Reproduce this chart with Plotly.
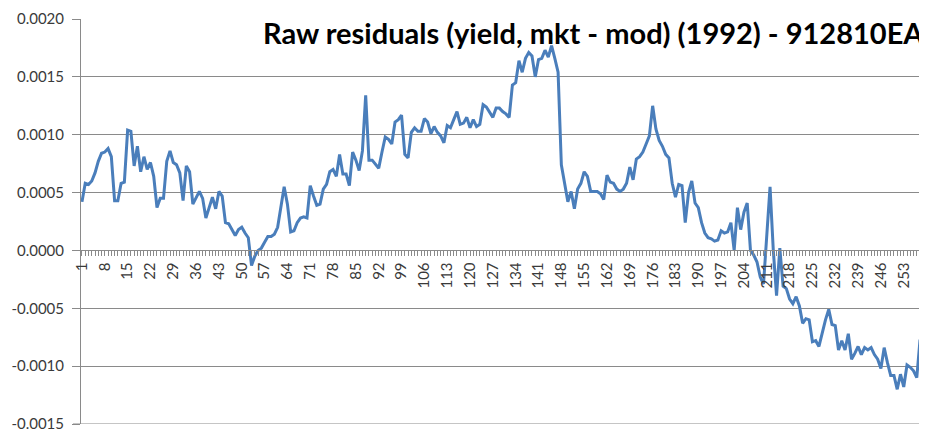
import plotly.graph_objects as go

# Observation index (categories 1..258)
categories = list(range(1, 259))

# Raw residuals (yield, mkt - mod)
residuals = [
    0.00042, 0.00058, 0.00057, 0.00060, 0.00067, 0.00077, 0.00084, 0.00085, 0.00088, 0.00081,
    0.00043, 0.00043, 0.00058, 0.00059, 0.00104, 0.00103, 0.00073, 0.00090, 0.00068, 0.00081,
    0.00070, 0.00076, 0.00064, 0.00037, 0.00045, 0.00045, 0.00077, 0.00086, 0.00076, 0.00074,
    0.00067, 0.00043, 0.00073, 0.00068, 0.00040, 0.00045, 0.00051, 0.00045, 0.00028, 0.00037,
    0.00046, 0.00036, 0.00051, 0.00047, 0.00024, 0.00023, 0.00018, 0.00013, 0.00018, 0.00020,
    0.00015, 0.00011, -0.00013, -0.00005, 0.00000, 0.00002, 0.00007, 0.00012, 0.00012, 0.00014,
    0.00020, 0.00036, 0.00055, 0.00040, 0.00016, 0.00017, 0.00024, 0.00028, 0.00029, 0.00028,
    0.00056, 0.00047, 0.00039, 0.00040, 0.00053, 0.00057, 0.00068, 0.00070, 0.00064, 0.00083,
    0.00066, 0.00066, 0.00056, 0.00085, 0.00078, 0.00069, 0.00086, 0.00134, 0.00078, 0.00078,
    0.00074, 0.00071, 0.00085, 0.00098, 0.00096, 0.00092, 0.00111, 0.00113, 0.00117, 0.00083,
    0.00080, 0.00102, 0.00106, 0.00103, 0.00103, 0.00114, 0.00111, 0.00101, 0.00107, 0.00102,
    0.00099, 0.00093, 0.00108, 0.00106, 0.00113, 0.00120, 0.00109, 0.00110, 0.00115, 0.00106,
    0.00113, 0.00107, 0.00109, 0.00126, 0.00124, 0.00120, 0.00115, 0.00123, 0.00123, 0.00120,
    0.00118, 0.00115, 0.00143, 0.00145, 0.00164, 0.00154, 0.00166, 0.00171, 0.00168, 0.00150,
    0.00165, 0.00166, 0.00173, 0.00167, 0.00177, 0.00166, 0.00154, 0.00074, 0.00059, 0.00042,
    0.00051, 0.00036, 0.00053, 0.00058, 0.00068, 0.00064, 0.00051, 0.00051, 0.00051, 0.00049,
    0.00044, 0.00065, 0.00059, 0.00058, 0.00053, 0.00051, 0.00053, 0.00058, 0.00072, 0.00061,
    0.00079, 0.00081, 0.00085, 0.00092, 0.00099, 0.00125, 0.00105, 0.00095, 0.00090, 0.00083,
    0.00080, 0.00058, 0.00046, 0.00057, 0.00056, 0.00024, 0.00050, 0.00060, 0.00041, 0.00037,
    0.00024, 0.00015, 0.00011, 0.00010, 0.00008, 0.00009, 0.00017, 0.00015, 0.00016, 0.00024,
    0.00000, 0.00037, 0.00018, 0.00033, 0.00041, 0.00000, -0.00004, -0.00010, -0.00023, -0.00029,
    0.00010, 0.00055, 0.00000, -0.00039, 0.00002, -0.00031, -0.00033, -0.00042, -0.00046, -0.00040,
    -0.00048, -0.00063, -0.00059, -0.00060, -0.00079, -0.00078, -0.00083, -0.00071, -0.00060, -0.00051,
    -0.00064, -0.00065, -0.00086, -0.00078, -0.00086, -0.00072, -0.00094, -0.00089, -0.00083, -0.00090,
    -0.00084, -0.00086, -0.00084, -0.00090, -0.00094, -0.00102, -0.00084, -0.00097, -0.00108, -0.00108,
    -0.00120, -0.00107, -0.00118, -0.00099, -0.00101, -0.00104, -0.00110, -0.00077,
]

# Category axis labels (every 7th category)
x_tick_values = list(range(1, 259, 7))
x_tick_labels = [str(v) for v in x_tick_values]

y_tick_values = [-0.0015, -0.0010, -0.0005, 0.0, 0.0005, 0.0010, 0.0015, 0.0020]
y_tick_labels = ["-0.0015", "-0.0010", "-0.0005", "0.0000", "0.0005", "0.0010", "0.0015", "0.0020"]

title_text = "Raw residuals (yield, mkt - mod) (1992) - 912810EA"

Y_MIN, Y_MAX = -0.0015, 0.0020
AXIS_GRAY = "#8a8a8a"
TEXT_COLOR = "#3a3a3a"
FONT = "Lato"

fig = go.Figure()
fig.add_trace(go.Scatter(
    x=categories, y=residuals, mode="lines",
    line=dict(color="#4a7ebb", width=3),
    showlegend=False, hoverinfo="skip",
))

zero_pos = (0 - Y_MIN) / (Y_MAX - Y_MIN)
PLOT_W = 919 - 73 - 5

# the page body has an 8px margin, so the figure is sized to fill the rest
fig.update_layout(
    width=919, height=422,
    margin=dict(l=73, r=5, t=11, b=6, autoexpand=False),
    paper_bgcolor="white", plot_bgcolor="white",
    font=dict(family=FONT, color=TEXT_COLOR, size=15),
    xaxis=dict(
        range=[0.7, 258.6], anchor="free", position=zero_pos, automargin=False,
        tickmode="array", tickvals=x_tick_values, ticktext=x_tick_labels,
        tickangle=-90, ticks="outside", ticklen=5, tickcolor=AXIS_GRAY,
        showline=True, linecolor=AXIS_GRAY, linewidth=1,
        showgrid=False, zeroline=False,
        tickfont=dict(family=FONT, size=15, color=TEXT_COLOR),
        minor=dict(tickmode="linear", tick0=1, dtick=1, ticks="outside",
                   ticklen=5, tickcolor=AXIS_GRAY, showgrid=False),
    ),
    yaxis=dict(
        range=[Y_MIN, Y_MAX], automargin=False,
        tickmode="array", tickvals=y_tick_values, ticktext=y_tick_labels,
        ticks="outside", ticklen=8, tickcolor=AXIS_GRAY,
        ticklabelstandoff=5, ticklabeloverflow="allow",
        showline=True, linecolor=AXIS_GRAY, linewidth=1,
        showgrid=True, gridcolor=AXIS_GRAY, gridwidth=1,
        zeroline=False,
        tickfont=dict(family=FONT, size=15, color=TEXT_COLOR),
    ),
    shapes=[dict(
        type="line", xref="paper", yref="y",
        x0=-8 / PLOT_W, x1=1, y0=Y_MIN, y1=Y_MIN,
        line=dict(color=AXIS_GRAY, width=1), layer="below",
    )],
    annotations=[dict(
        text="<b>" + title_text + "</b>",
        xref="paper", yref="paper", x=1.0, y=1.0,
        xanchor="right", yanchor="top", showarrow=False, yshift=6, xshift=4,
        font=dict(family=FONT, size=29, color="black"),
    )],
)

fig.write_html("out.html")
